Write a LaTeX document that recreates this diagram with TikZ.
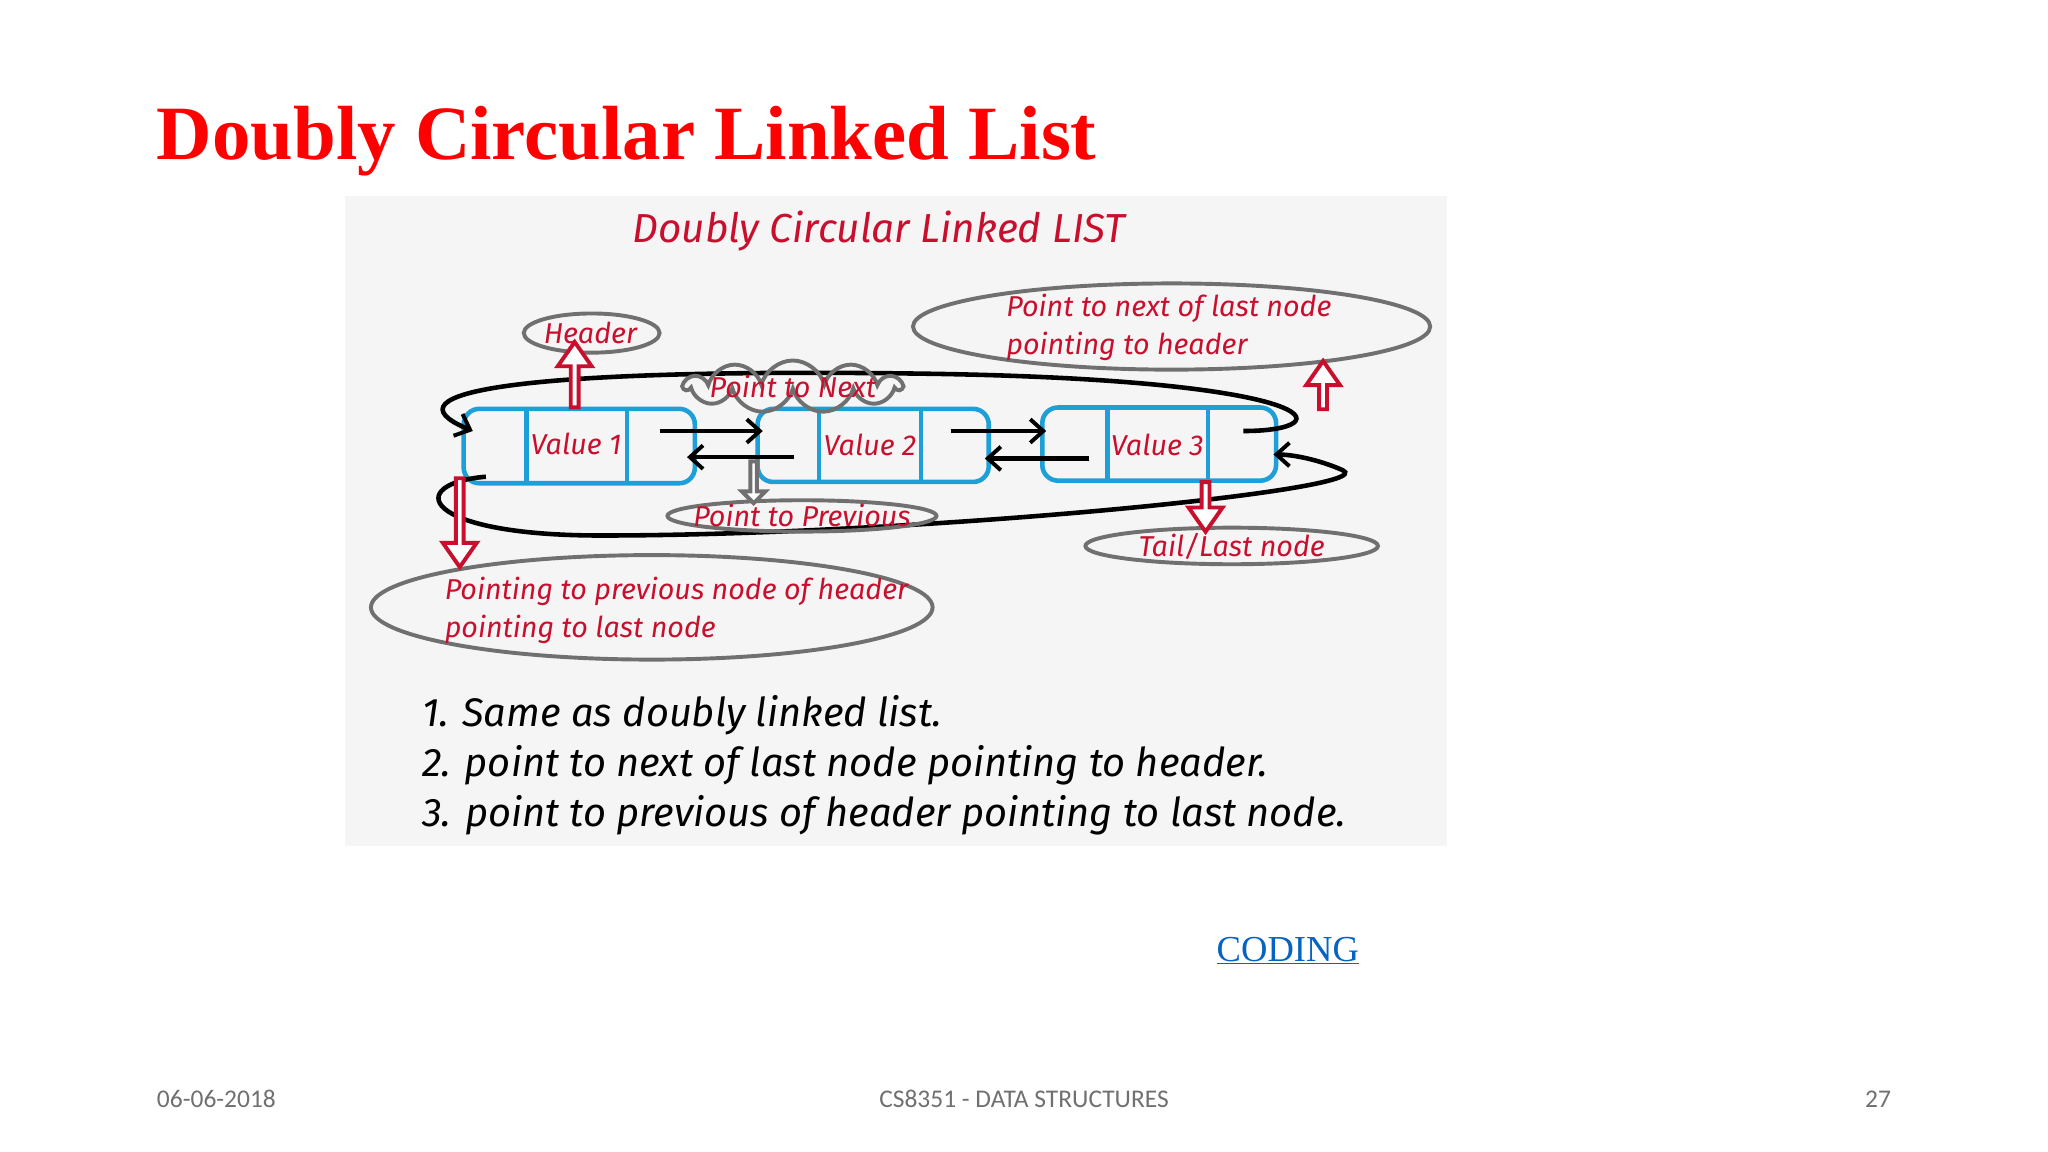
\documentclass[tikz,border=0pt]{standalone}
\usepackage{fontspec}
\setmainfont{Liberation Serif}
\newfontfamily\hand{Fira Sans}
\newfontfamily\foot{Carlito}
\usetikzlibrary{shapes.geometric,shapes.symbols,shapes.arrows,arrows.meta}
\definecolor{titlered}{HTML}{FF0000}
\definecolor{hred}{HTML}{C8102E}
\definecolor{nblue}{HTML}{1E9FD8}
\definecolor{egray}{HTML}{707070}
\definecolor{panel}{HTML}{F5F5F5}
\definecolor{link}{HTML}{0563C1}
\tikzset{
 ell/.style={ellipse,draw=egray,line width=3pt,inner sep=0pt},
 htxt/.style={font=\hand\itshape\fontsize{22}{29}\selectfont,text=hred,align=left},
 cell/.style={draw=nblue,line width=3.5pt,rounded corners=12pt},
 link/.style={line width=3.5pt,-{Straight Barb[length=10pt,width=18pt,line width=3pt]}},
 hollow/.style={single arrow,draw=hred,line width=3pt,fill=white,minimum width=26pt,single arrow head extend=5pt,single arrow tip angle=70,inner sep=0pt,minimum height=#1},
}
\begin{document}
\begin{tikzpicture}[x=1pt,y=-1pt]
\useasboundingbox (0,0) rectangle (1568,882);
\fill[white] (0,0) rectangle (1568,882);
\node[anchor=base west,font=\bfseries\fontsize{58.8}{70}\selectfont,text=titlered,inner sep=0] (title) at (120,122) {Doubly Circular Linked List};
\fill[panel] (264,150) rectangle (1108,648);
\node[font=\hand\itshape\fontsize{31}{36}\selectfont,text=hred] (sub) at (673,177) {Doubly Circular Linked LIST};
% nodes
\draw[cell] (355,313) rectangle (532,370);
\draw[nblue,line width=3.5pt] (403,313)--(403,370) (480,313)--(480,370);
\draw[cell] (580,313) rectangle (757,369);
\draw[nblue,line width=3.5pt] (627,313)--(627,369) (705,313)--(705,369);
\draw[cell] (798,312) rectangle (977,368);
\draw[nblue,line width=3.5pt] (848,312)--(848,368) (925,312)--(925,368);
\node[htxt] (v1) at (441,340) {Value 1};
\node[htxt] (v2) at (666,341) {Value 2};
\node[htxt] (v3) at (886,341) {Value 3};
\coordinate (n1a) at (505,330); \coordinate (n1b) at (584,330);
\coordinate (n2a) at (728,330); \coordinate (n2b) at (801,330);
\coordinate (p1a) at (608,350); \coordinate (p1b) at (526,350);
\coordinate (p2a) at (834,351); \coordinate (p2b) at (754,351);
\draw[link] (n1a)--(n1b);
\draw[link] (n2a)--(n2b);
\draw[link] (p1a)--(p1b);
\draw[link] (p2a)--(p2b);
% circular links
\coordinate (ts) at (952,330); \coordinate (te) at (362,330);
\draw[link] (ts) .. controls (1030,330) and (1020,290) .. (700,286) .. controls (400,282) and (290,300) .. (te);
\coordinate (bs) at (372,365); \coordinate (be) at (975,348);
\draw[link] (bs) .. controls (310,370) and (320,410) .. (460,410) .. controls (700,410) and (1060,375) .. (1028,360) .. controls (1010,352) and (990,348) .. (be);
% callouts
\node[ell,minimum width=104pt,minimum height=30pt] (hdr) at (453,255) {};
\node[htxt] at (452,255) {Header};
\node[cloud,draw=egray,line width=3pt,cloud puffs=11,aspect=4,minimum width=165pt,minimum height=40pt,inner sep=0pt] (cl) at (607,296) {};
\node[htxt] at (cl) {Point to Next};
\node[ell,minimum width=206pt,minimum height=24pt] (pp) at (614,395) {};
\node[htxt] at (pp) {Point to Previous};
\node[ell,minimum width=224pt,minimum height=28pt] (tl) at (943,418) {};
\node[htxt] at (tl) {Tail/Last node};
\node[ell,minimum width=396pt,minimum height=66pt] (tr) at (897,250) {};
\node[htxt,anchor=west] at (767,251) {Point to next of last node\\pointing to header};
\node[ell,minimum width=430pt,minimum height=80pt] (bl) at (499,465) {};
\node[htxt,anchor=west] at (337,467) {Pointing to previous node of header\\pointing to last node};
% hollow arrows
\node[hollow=50pt,rotate=90] (ha1) at (440,289) {};
\node[hollow=37pt,rotate=90] (ha2) at (1013,297) {};
\node[hollow=68pt,rotate=-90] (ha3) at (352,398) {};
\node[hollow=38pt,rotate=-90] (ha4) at (923,386) {};
\node[single arrow,draw=egray,line width=3pt,fill=white,minimum width=18pt,single arrow head extend=4pt,inner sep=0pt,minimum height=32pt,rotate=-90] (ha5) at (577,368) {};
% list
\node[anchor=north west,font=\hand\itshape\fontsize{30.5}{38.5}\selectfont,align=left,inner sep=0] (lst) at (323,532) {1. Same as doubly linked list.\\2. point to next of last node pointing to header.\\3. point to previous of header pointing to last node.};
\node[font=\fontsize{28}{32}\selectfont,text=link,anchor=base,inner sep=0] (cod) at (986,736) {\underline{CODING}};
\node[font=\foot\fontsize{19.5}{22}\selectfont,text=egray,anchor=base west,inner sep=0] (d) at (120,848) {06-06-2018};
\node[font=\foot\fontsize{19.5}{22}\selectfont,text=egray,anchor=base,inner sep=0] (c) at (784,848) {CS8351 - DATA STRUCTURES};
\node[font=\foot\fontsize{19.5}{22}\selectfont,text=egray,anchor=base east,inner sep=0] (p) at (1448,848) {27};
\end{tikzpicture}
\end{document}
